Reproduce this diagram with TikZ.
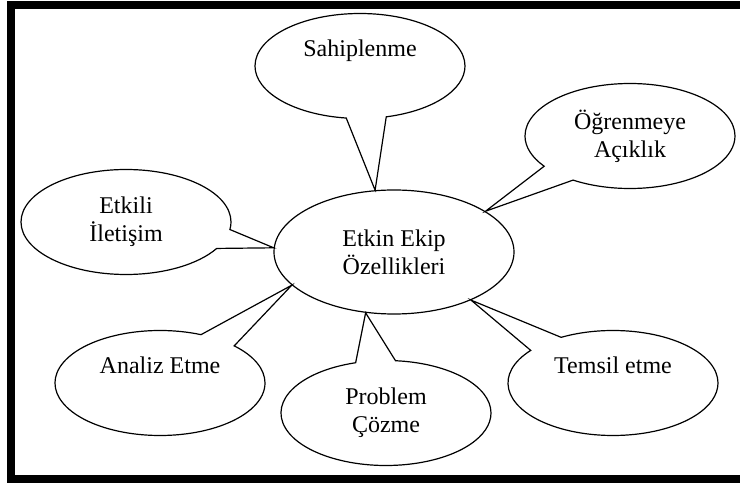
\documentclass[tikz,border=0pt]{standalone}
\usepackage{fontspec}
\setmainfont{Liberation Serif}
\usetikzlibrary{shapes.geometric, shapes.callouts}

\begin{document}
\begin{tikzpicture}[
  x=0.5pt, y=-0.5pt,
  font=\fontsize{12}{14}\selectfont,
  core/.style={draw, ellipse, line width=0.6pt, align=center,
               minimum width=120pt, minimum height=62pt, inner sep=0pt},
  bubble/.style={draw, ellipse callout, line width=0.6pt, align=center,
                 minimum width=105pt, minimum height=52.5pt, inner sep=0pt,
                 callout pointer arc=22},
  frame/.style={line width=4pt}
]
\useasboundingbox (0,0) rectangle (740,486);
\draw[frame] (740,5.5) -- (11,5.5) -- (11,479) -- (740,479);

\node[core] (ekip) at (394,252) {Etkin Ekip\\Özellikleri};

\node[bubble, callout absolute pointer={(ekip.107)}] (sahip) at (360,66)
     {Sahiplenme\\\strut};
\node[bubble, callout absolute pointer={(ekip.24)}] (ogren) at (630,136)
     {Öğrenmeye\\Açıklık};
\node[bubble, callout absolute pointer={(ekip.178)}] (iletisim) at (126,222)
     {Etkili\\İletişim};
\node[bubble, callout absolute pointer={(ekip.198)}] (analiz) at (160,383)
     {Analiz Etme\\\strut};
\node[bubble, callout absolute pointer={(ekip.245)}] (problem) at (386,413)
     {Problem\\Çözme};
\node[bubble, callout absolute pointer={(ekip.328)}] (temsil) at (613,383)
     {Temsil etme\\\strut};
\end{tikzpicture}
\end{document}
